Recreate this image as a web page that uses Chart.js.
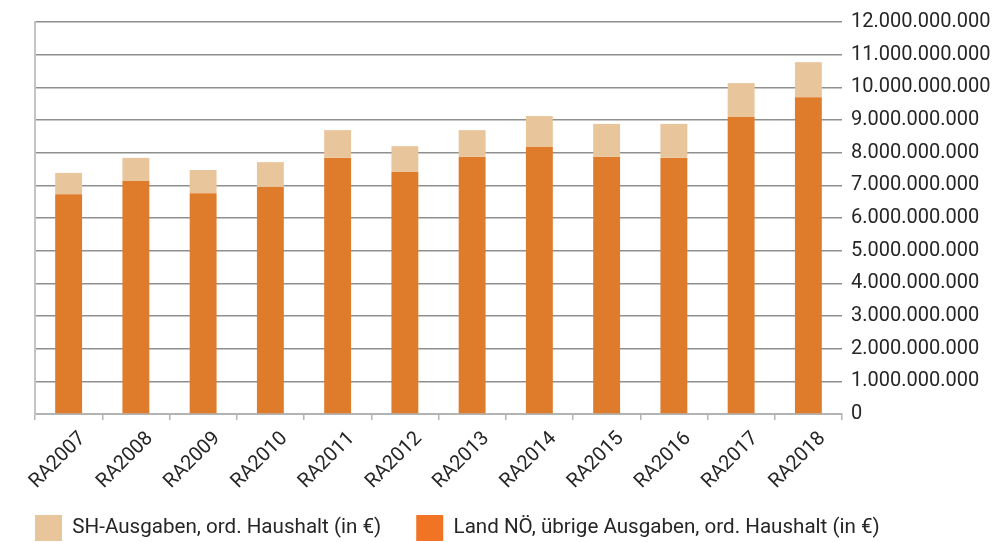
<!DOCTYPE html>
<html>
<head>
<meta charset="utf-8">
<script src="https://cdn.jsdelivr.net/npm/chart.js@4.4.1/dist/chart.umd.min.js"></script>
<style>
  html, body { margin: 0; padding: 0; background: #fff; }
  #wrap { width: 995px; height: 542px; position: relative; }
</style>
</head>
<body>
<div id="wrap"><canvas id="budgetChart"></canvas></div>
<script>
// ---- data ----
const categories = ['RA2007', 'RA2008', 'RA2009', 'RA2010', 'RA2011', 'RA2012',
                    'RA2013', 'RA2014', 'RA2015', 'RA2016', 'RA2017', 'RA2018'];

// Land NÖ, übrige Ausgaben (lower, dark orange part)
const landNoeValues = [6730000000, 7130000000, 6760000000, 6950000000, 7840000000, 7410000000,
                       7870000000, 8170000000, 7870000000, 7840000000, 9090000000, 9700000000];

// SH-Ausgaben (upper, light part)
const shValues = [650000000, 710000000, 710000000, 760000000, 850000000, 790000000,
                  820000000, 950000000, 1010000000, 1040000000, 1040000000, 1070000000];

const yTicks = [0, 1000000000, 2000000000, 3000000000, 4000000000, 5000000000, 6000000000,
                7000000000, 8000000000, 9000000000, 10000000000, 11000000000, 12000000000];

const labelLand = 'Land NÖ, übrige Ausgaben, ord. Haushalt (in €)';
const labelSh   = 'SH-Ausgaben, ord. Haushalt (in €)';

// ---- colours ----
const barOrange    = '#DF7C2B';
const barLight     = '#E8C59B';
const legendOrange = '#F07424';
const gridGray     = '#8f8f8f';
const axisGray     = '#b3b3b3';
const textDark     = '#262626';

const fontFamily = 'Roboto, "Open Sans", sans-serif';

function dotted(v) {
  return String(v).replace(/\B(?=(\d{3})+(?!\d))/g, '.');
}

// rotated x labels hang a bit lower than the axis box, so widen its clip area
const xLabelRoom = {
  id: 'xLabelRoom',
  afterLayout(chart) {
    chart.scales.x.bottom += 16;
  }
};

const ctx = document.getElementById('budgetChart');

new Chart(ctx, {
  type: 'bar',
  plugins: [xLabelRoom],
  data: {
    labels: categories,
    datasets: [
      {
        label: labelLand,
        data: landNoeValues,
        backgroundColor: barOrange,
        stack: 's',
        yAxisID: 'y',
      },
      {
        label: labelSh,
        data: shValues,
        backgroundColor: barLight,
        stack: 's',
        yAxisID: 'y',
      }
    ]
  },
  options: {
    responsive: true,
    maintainAspectRatio: false,
    animation: false,
    layout: { padding: { top: 22, right: 0, bottom: 0, left: 0 } },
    datasets: {
      bar: { barPercentage: 0.4, categoryPercentage: 1.0 }
    },
    plugins: {
      tooltip: { enabled: false },
      legend: {
        position: 'bottom',
        align: 'start',
        reverse: true,
        maxHeight: 62,
        labels: {
          boxWidth: 27,
          boxHeight: 26,
          padding: 35,
          color: textDark,
          font: { family: fontFamily, size: 20.6 },
          generateLabels: function (chart) {
            const items = Chart.defaults.plugins.legend.labels.generateLabels(chart);
            items.forEach(it => {
              if (it.text === labelLand) it.fillStyle = legendOrange;
              it.lineWidth = 0;
              it.strokeStyle = 'rgba(0,0,0,0)';
            });
            return items;
          }
        }
      }
    },
    scales: {
      x: {
        stacked: true,
        afterFit: s => { s.height = 66; },
        grid: {
          display: true,
          offset: true,
          drawOnChartArea: false,
          drawTicks: true,
          tickLength: 6,
          color: axisGray,
          lineWidth: 1.5
        },
        border: { display: true, color: axisGray, width: 2 },
        ticks: {
          minRotation: 45,
          maxRotation: 45,
          labelOffset: 14,
          color: textDark,
          padding: 7,
          font: { family: fontFamily, size: 20 }
        }
      },
      y: {
        stacked: true,
        position: 'right',
        min: 0,
        max: 12000000000,
        afterFit: s => { s.width = 153; },
        afterBuildTicks: s => { s.ticks = yTicks.map(v => ({ value: v })); },
        grid: {
          color: gridGray,
          lineWidth: 1.5,
          drawTicks: false
        },
        border: { display: false },
        ticks: {
          padding: 9,
          color: textDark,
          font: { family: fontFamily, size: 20 },
          callback: v => dotted(v)
        }
      },
      // thin frame line on the left side of the plot
      yLeft: {
        position: 'left',
        min: 0,
        max: 12000000000,
        afterFit: s => { s.width = 35; },
        grid: { display: false },
        border: { display: true, color: '#c4c4c4', width: 2 },
        ticks: { display: false }
      }
    }
  }
});
</script>
</body>
</html>
